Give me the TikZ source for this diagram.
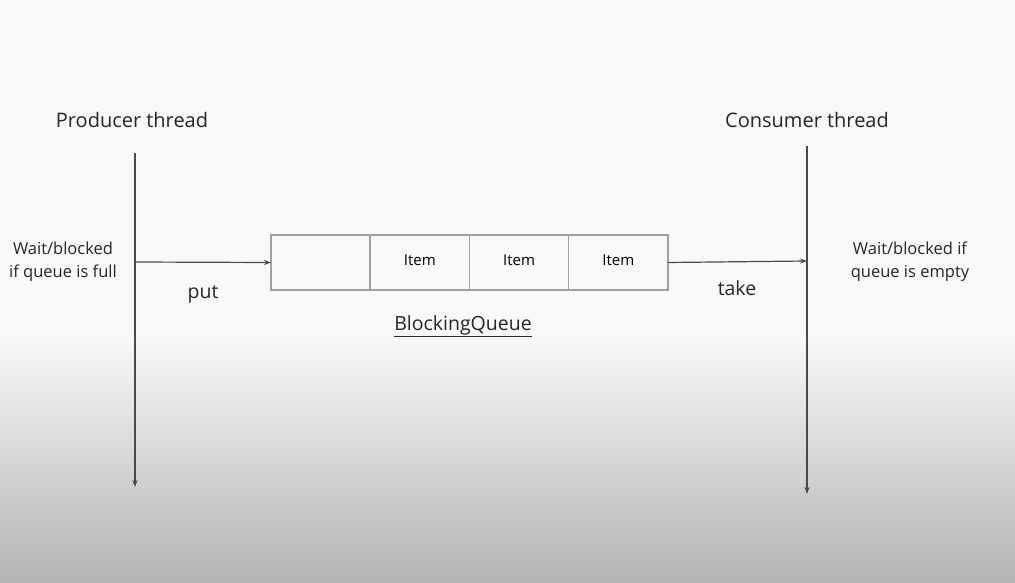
\documentclass[tikz,border=0pt]{standalone}
\usepackage{fontspec}
\setmainfont{Open Sans}
\usetikzlibrary{positioning,arrows.meta}

\definecolor{bgtop}{HTML}{F9F9F9}
\definecolor{bgbot}{HTML}{B4B4B4}
\definecolor{linegray}{HTML}{4A4A4A}
\definecolor{boxgray}{HTML}{A0A0A0}

\begin{document}
\begin{tikzpicture}[x=1pt, y=-1pt,
    cell/.style={draw=boxgray, line width=1.5pt, minimum width=99.25pt, minimum height=55pt,
      outer sep=0pt, inner sep=0pt, font=\fontsize{15}{18}\selectfont},
    title/.style={font=\fontsize{20}{24}\selectfont, text=black!85},
    note/.style={align=center, font=\fontsize{16.5}{23}\selectfont, text=black!85},
    oplabel/.style={font=\fontsize{19.5}{23}\selectfont, text=black!85},
    flow/.style={draw=linegray, line width=1.2pt, -{Stealth[length=7pt, width=5pt]}}]
  % background
  \fill[bgtop] (0,0) rectangle (1015,333);
  \shade[top color=bgtop, bottom color=bgbot] (0,333) rectangle (1015,583);
  \useasboundingbox (0,0) rectangle (1015,583);

  % threads
  \node [title] (producer) at (132,120) {Producer thread};
  \node [title] (consumer) at (807,120) {Consumer thread};
  \coordinate (prodtop) at (135,153);
  \coordinate (prodbot) at (135,487);
  \coordinate (prodput) at (135,262);
  \coordinate (constop) at (807,146);
  \coordinate (consbot) at (807,494);
  \coordinate (constake) at (807,261);
  \draw [flow] (prodtop) -- (prodbot);
  \draw [flow] (constop) -- (consbot);

  % queue
  \node [cell, text depth=5pt] (slot0) at (320.6,262.5) {};
  \node [cell, text depth=5pt, right=0pt of slot0] (slot1) {Item};
  \node [cell, text depth=5pt, right=0pt of slot1] (slot2) {Item};
  \node [cell, text depth=5pt, right=0pt of slot2] (slot3) {Item};
  \node [oplabel] (queue) at (463,326) {\underline{BlockingQueue}};

  % operations
  \draw [flow] (prodput) -- (slot0.west);
  \draw [flow] (slot3.east) -- (constake);
  \node [oplabel] (put) at (203,294) {put};
  \node [oplabel] (take) at (737,288) {take};

  % blocking notes
  \node [note] (waitfull) at (63,262) {Wait/blocked\\if queue is full};
  \node [note] (waitempty) at (910,262) {Wait/blocked if\\queue is empty};
\end{tikzpicture}
\end{document}
